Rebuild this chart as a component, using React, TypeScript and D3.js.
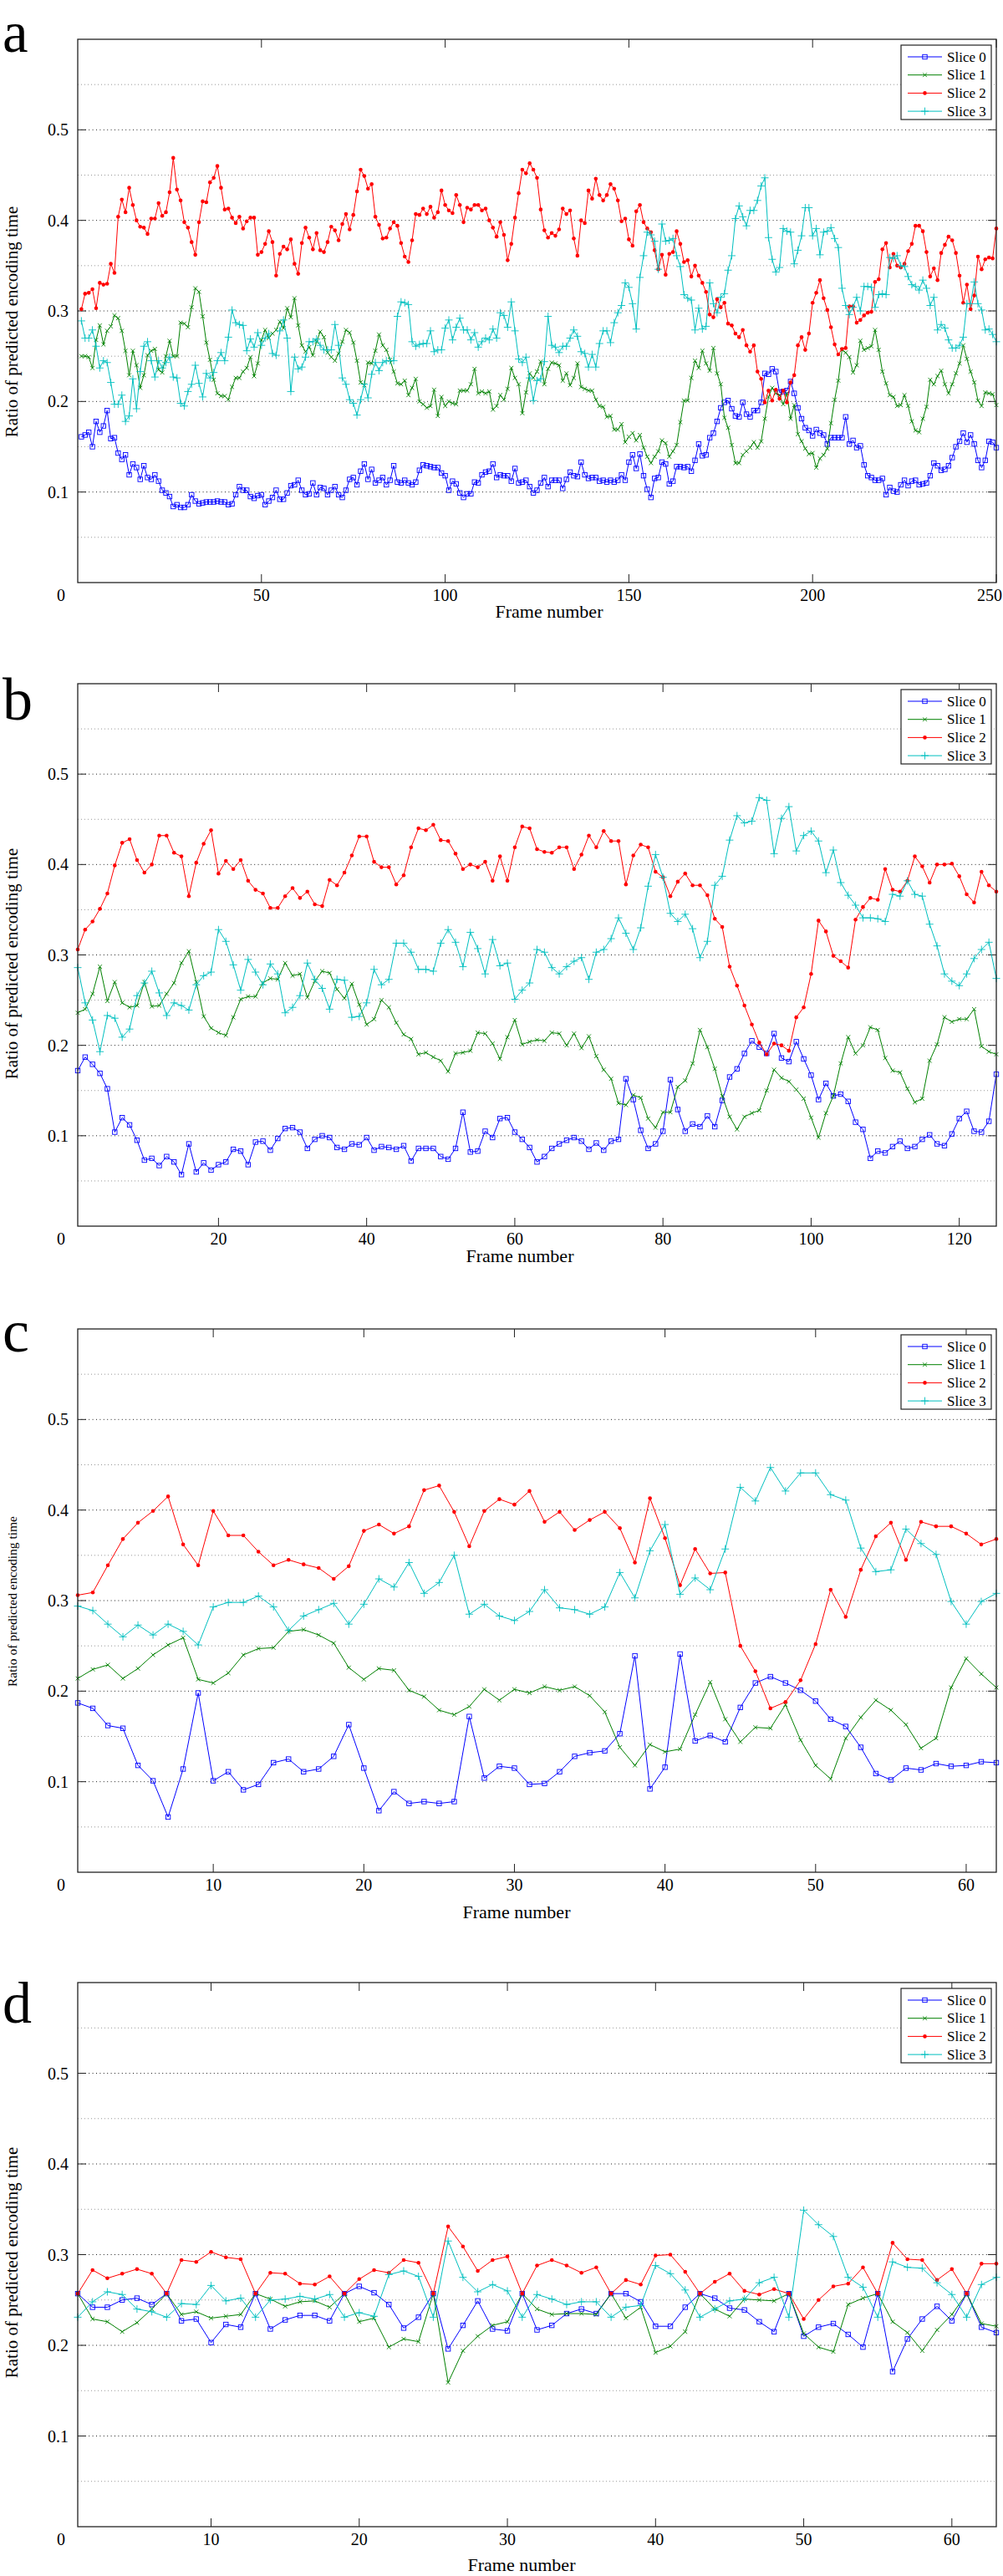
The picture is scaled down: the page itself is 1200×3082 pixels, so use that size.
import React from "react";
import * as d3 from "d3";

// ---------- DATA ----------
const SERIES_NAMES = ["Slice 0", "Slice 1", "Slice 2", "Slice 3"];
const Y_TICKS = [0.1, 0.2, 0.3, 0.4, 0.5];
const Y_MINOR = [0.05, 0.15, 0.25, 0.35, 0.45, 0.55];

const A_TICKS = [50, 100, 150, 200, 250];
const B_TICKS = [20, 40, 60, 80, 100, 120];
const C_TICKS = [10, 20, 30, 40, 50, 60];
const D_TICKS = [10, 20, 30, 40, 50, 60];

// Panel a (frames 1..250)
const A_S0 = [
  0.161, 0.163, 0.166, 0.150, 0.178, 0.166, 0.173, 0.190, 0.159, 0.160,
  0.143, 0.136, 0.141, 0.119, 0.131, 0.127, 0.114, 0.129, 0.116, 0.114,
  0.119, 0.112, 0.102, 0.099, 0.095, 0.084, 0.086, 0.083, 0.083, 0.086,
  0.097, 0.090, 0.087, 0.088, 0.089, 0.089, 0.089, 0.090, 0.089, 0.089,
  0.086, 0.087, 0.097, 0.106, 0.102, 0.102, 0.095, 0.093, 0.096, 0.097,
  0.086, 0.090, 0.094, 0.102, 0.092, 0.092, 0.099, 0.107, 0.108, 0.113,
  0.102, 0.097, 0.098, 0.110, 0.097, 0.105, 0.104, 0.097, 0.102, 0.106,
  0.097, 0.094, 0.102, 0.114, 0.116, 0.108, 0.123, 0.131, 0.114, 0.125,
  0.110, 0.113, 0.116, 0.108, 0.113, 0.129, 0.111, 0.110, 0.113, 0.110,
  0.108, 0.111, 0.124, 0.130, 0.129, 0.128, 0.127, 0.127, 0.121, 0.118,
  0.102, 0.112, 0.109, 0.099, 0.094, 0.098, 0.098, 0.111, 0.110, 0.119,
  0.122, 0.123, 0.131, 0.116, 0.119,
  0.118, 0.118, 0.112, 0.126, 0.110, 0.111, 0.113, 0.106, 0.099, 0.102,
  0.110, 0.116, 0.106, 0.113, 0.113, 0.113, 0.104, 0.114, 0.122, 0.118,
  0.117, 0.133, 0.119, 0.115, 0.116, 0.116, 0.112, 0.113, 0.111, 0.113,
  0.111, 0.113, 0.119, 0.113, 0.133, 0.141, 0.126, 0.142, 0.118, 0.103,
  0.094, 0.115, 0.116, 0.133, 0.131, 0.109, 0.112, 0.128, 0.128, 0.127,
  0.128, 0.123, 0.135, 0.153, 0.140, 0.141, 0.160, 0.165, 0.178, 0.193,
  0.199, 0.201, 0.192, 0.184, 0.183, 0.199, 0.186, 0.183, 0.190, 0.190,
  0.199, 0.231, 0.230, 0.236, 0.233, 0.210, 0.211, 0.212, 0.222, 0.209,
  0.193, 0.181, 0.171, 0.168, 0.162, 0.169, 0.165, 0.163, 0.153, 0.160,
  0.160, 0.160, 0.160, 0.183, 0.153, 0.157, 0.149, 0.151, 0.130, 0.118,
  0.116, 0.113, 0.113, 0.115, 0.097, 0.105, 0.101, 0.100, 0.108, 0.113,
  0.107, 0.112, 0.113, 0.108, 0.109, 0.110, 0.118, 0.132, 0.129, 0.124,
  0.125, 0.129, 0.138, 0.150, 0.156, 0.165, 0.155, 0.163, 0.153, 0.135,
  0.127, 0.135, 0.156, 0.155, 0.149,
];
const A_S1 = [
  0.250, 0.250, 0.249, 0.237, 0.268, 0.284, 0.263, 0.278, 0.283, 0.295,
  0.292, 0.278, 0.256, 0.229, 0.256, 0.240, 0.215, 0.229, 0.251, 0.256,
  0.258, 0.235, 0.232, 0.250, 0.267, 0.250, 0.250, 0.287, 0.286, 0.282,
  0.304, 0.325, 0.321, 0.294, 0.265, 0.246, 0.224, 0.209, 0.206, 0.206,
  0.202, 0.216, 0.226, 0.226, 0.233, 0.237, 0.249, 0.228, 0.242, 0.268,
  0.279, 0.270, 0.275, 0.279, 0.288, 0.281, 0.303, 0.293, 0.314, 0.284,
  0.262, 0.255, 0.260, 0.251, 0.266, 0.277, 0.271, 0.254, 0.249, 0.245,
  0.253, 0.266, 0.279, 0.276, 0.265, 0.245, 0.221, 0.218, 0.243, 0.242,
  0.256, 0.274, 0.262, 0.257, 0.246, 0.233, 0.220, 0.219, 0.223, 0.207,
  0.215, 0.225, 0.200, 0.197, 0.193, 0.195, 0.213, 0.184, 0.205, 0.195,
  0.200, 0.198, 0.197, 0.212, 0.212, 0.212, 0.219, 0.236, 0.209, 0.211,
  0.209, 0.211, 0.191, 0.195, 0.207,
  0.202, 0.214, 0.237, 0.226, 0.219, 0.187, 0.210, 0.231, 0.226, 0.233,
  0.244, 0.219, 0.236, 0.243, 0.242, 0.240, 0.223, 0.231, 0.218, 0.226,
  0.242, 0.216, 0.214, 0.212, 0.212, 0.202, 0.195, 0.194, 0.183, 0.184,
  0.169, 0.169, 0.175, 0.155, 0.161, 0.165, 0.157, 0.163, 0.149, 0.139,
  0.132, 0.139, 0.145, 0.157, 0.154, 0.139, 0.145, 0.152, 0.177, 0.201,
  0.201, 0.226, 0.245, 0.237, 0.256, 0.242, 0.234, 0.259, 0.231, 0.219,
  0.182, 0.171, 0.152, 0.132, 0.132, 0.141, 0.145, 0.149, 0.155, 0.149,
  0.156, 0.181, 0.205, 0.215, 0.209, 0.207, 0.197, 0.209, 0.181, 0.196,
  0.164, 0.156, 0.148, 0.142, 0.143, 0.127, 0.137, 0.141, 0.148, 0.176,
  0.202, 0.223, 0.257, 0.254, 0.249, 0.232, 0.240, 0.267, 0.257, 0.259,
  0.261, 0.279, 0.257, 0.233, 0.220, 0.207, 0.205, 0.195, 0.196, 0.207,
  0.195, 0.178, 0.168, 0.166, 0.181, 0.194, 0.224, 0.219, 0.228, 0.234,
  0.219, 0.209, 0.219, 0.231, 0.242, 0.262, 0.247, 0.233, 0.221, 0.201,
  0.195, 0.210, 0.209, 0.208, 0.196,
];
const A_S2 = [
  0.302, 0.319, 0.320, 0.324, 0.303, 0.331, 0.329, 0.330, 0.352, 0.342,
  0.404, 0.423, 0.409, 0.436, 0.417, 0.400, 0.393, 0.392, 0.385, 0.402,
  0.402, 0.419, 0.405, 0.409, 0.431, 0.469, 0.434, 0.422, 0.398, 0.392,
  0.376, 0.362, 0.398, 0.421, 0.420, 0.442, 0.447, 0.460, 0.436, 0.412,
  0.413, 0.403, 0.397, 0.404, 0.391, 0.399, 0.403, 0.403, 0.362, 0.365,
  0.374, 0.388, 0.376, 0.339, 0.363, 0.371, 0.368, 0.379, 0.352, 0.341,
  0.375, 0.392, 0.381, 0.368, 0.386, 0.367, 0.365, 0.376, 0.393, 0.389,
  0.378, 0.396, 0.407, 0.390, 0.406, 0.432, 0.456, 0.449, 0.435, 0.440,
  0.404, 0.395, 0.380, 0.381, 0.391, 0.398, 0.394, 0.375, 0.360, 0.354,
  0.378, 0.407, 0.406, 0.413, 0.407, 0.415, 0.403, 0.409, 0.433, 0.417,
  0.411, 0.408, 0.428, 0.417, 0.398, 0.414, 0.412, 0.417, 0.417, 0.411,
  0.413, 0.400, 0.392, 0.382, 0.398,
  0.384, 0.356, 0.374, 0.403, 0.430, 0.456, 0.452, 0.463, 0.456, 0.447,
  0.412, 0.389, 0.381, 0.386, 0.383, 0.390, 0.413, 0.407, 0.411, 0.380,
  0.361, 0.400, 0.397, 0.433, 0.424, 0.446, 0.428, 0.422, 0.428, 0.440,
  0.435, 0.422, 0.399, 0.402, 0.379, 0.372, 0.410, 0.417, 0.398, 0.391,
  0.387, 0.367, 0.346, 0.362, 0.340, 0.363, 0.365, 0.388, 0.374, 0.354,
  0.356, 0.338, 0.350, 0.339, 0.331, 0.321, 0.296, 0.293, 0.313, 0.304,
  0.309, 0.286, 0.284, 0.275, 0.271, 0.279, 0.262, 0.255, 0.262, 0.233,
  0.225, 0.199, 0.212, 0.201, 0.213, 0.203, 0.212, 0.199, 0.221, 0.229,
  0.262, 0.271, 0.257, 0.275, 0.309, 0.320, 0.334, 0.314, 0.301, 0.282,
  0.263, 0.252, 0.258, 0.259, 0.305, 0.305, 0.287, 0.290, 0.295, 0.298,
  0.299, 0.332, 0.335, 0.368, 0.375, 0.348, 0.363, 0.350, 0.348, 0.352,
  0.366, 0.374, 0.394, 0.394, 0.388, 0.365, 0.338, 0.347, 0.334, 0.364,
  0.373, 0.382, 0.378, 0.364, 0.339, 0.309, 0.329, 0.302, 0.317, 0.360,
  0.346, 0.357, 0.359, 0.358, 0.391,
];
const A_S3 = [
  0.289, 0.270, 0.270, 0.279, 0.261, 0.237, 0.245, 0.243, 0.221, 0.197,
  0.197, 0.207, 0.178, 0.184, 0.225, 0.192, 0.233, 0.261, 0.266, 0.245,
  0.227, 0.245, 0.237, 0.243, 0.249, 0.227, 0.226, 0.198, 0.195, 0.211,
  0.219, 0.240, 0.220, 0.205, 0.231, 0.226, 0.232, 0.245, 0.254, 0.245,
  0.271, 0.301, 0.287, 0.285, 0.284, 0.256, 0.269, 0.260, 0.276, 0.262,
  0.270, 0.275, 0.253, 0.251, 0.278, 0.290, 0.270, 0.211, 0.249, 0.236,
  0.238, 0.249, 0.266, 0.266, 0.269, 0.262, 0.257, 0.257, 0.257, 0.285,
  0.262, 0.226, 0.219, 0.202, 0.198, 0.185, 0.202, 0.219, 0.204, 0.230,
  0.243, 0.234, 0.243, 0.245, 0.245, 0.245, 0.294, 0.310, 0.309, 0.307,
  0.266, 0.261, 0.263, 0.264, 0.264, 0.278, 0.255, 0.257, 0.257, 0.281,
  0.290, 0.268, 0.282, 0.292, 0.279, 0.279, 0.268, 0.276, 0.260, 0.266,
  0.270, 0.268, 0.280, 0.270, 0.298,
  0.295, 0.282, 0.310, 0.278, 0.247, 0.243, 0.249, 0.226, 0.201, 0.223,
  0.225, 0.244, 0.294, 0.262, 0.260, 0.254, 0.261, 0.261, 0.270, 0.279,
  0.272, 0.255, 0.253, 0.238, 0.252, 0.238, 0.264, 0.278, 0.278, 0.265,
  0.287, 0.298, 0.306, 0.331, 0.326, 0.308, 0.280, 0.337, 0.361, 0.387,
  0.384, 0.377, 0.346, 0.396, 0.377, 0.378, 0.380, 0.361, 0.349, 0.318,
  0.314, 0.312, 0.279, 0.303, 0.280, 0.283, 0.331, 0.308, 0.298, 0.315,
  0.319, 0.345, 0.361, 0.402, 0.416, 0.404, 0.394, 0.411, 0.411, 0.422,
  0.438, 0.447, 0.381, 0.357, 0.343, 0.348, 0.391, 0.388, 0.387, 0.352,
  0.367, 0.383, 0.414, 0.414, 0.383, 0.391, 0.362, 0.387, 0.388, 0.392,
  0.380, 0.370, 0.325, 0.306, 0.296, 0.304, 0.315, 0.300, 0.327, 0.327,
  0.326, 0.304, 0.318, 0.319, 0.318, 0.359, 0.358, 0.361, 0.350, 0.349,
  0.338, 0.329, 0.327, 0.323, 0.334, 0.325, 0.306, 0.315, 0.279, 0.285,
  0.281, 0.268, 0.259, 0.259, 0.262, 0.271, 0.308, 0.308, 0.332, 0.308,
  0.301, 0.279, 0.280, 0.274, 0.266,
];

// Panel b (frames 1..125)
const B_S0 = [
  0.172, 0.187, 0.179, 0.169, 0.152, 0.104, 0.120, 0.112, 0.095, 0.073,
  0.075, 0.067, 0.077, 0.071, 0.057, 0.091, 0.060, 0.070, 0.062, 0.068,
  0.071, 0.085, 0.083, 0.068, 0.093, 0.094, 0.084, 0.097, 0.108, 0.109,
  0.104, 0.086, 0.096, 0.100, 0.098, 0.087, 0.085, 0.091, 0.090, 0.098,
  0.084, 0.088, 0.087, 0.085, 0.089, 0.072, 0.086, 0.086, 0.086, 0.077,
  0.074, 0.086, 0.126, 0.082, 0.083, 0.105, 0.098, 0.119, 0.120, 0.104,
  0.096, 0.087, 0.071, 0.077, 0.086, 0.091, 0.095, 0.098, 0.094, 0.085,
  0.092, 0.084, 0.094, 0.096, 0.163, 0.140, 0.106, 0.086, 0.091, 0.105,
  0.162, 0.129, 0.105, 0.113, 0.110, 0.122, 0.110, 0.139, 0.165, 0.174,
  0.191, 0.205, 0.198, 0.191, 0.213, 0.186, 0.182, 0.204, 0.185, 0.167,
  0.140, 0.158, 0.144, 0.146, 0.138, 0.115, 0.107, 0.075, 0.083, 0.081,
  0.088, 0.094, 0.086, 0.088, 0.096, 0.101, 0.091, 0.089, 0.102, 0.119,
  0.127, 0.105, 0.104, 0.116, 0.168,
];
const B_S1 = [
  0.236, 0.240, 0.257, 0.287, 0.249, 0.270, 0.247, 0.242, 0.244, 0.270,
  0.243, 0.244, 0.257, 0.269, 0.291, 0.304, 0.270, 0.232, 0.219, 0.214,
  0.211, 0.231, 0.251, 0.254, 0.254, 0.269, 0.274, 0.273, 0.291, 0.277,
  0.279, 0.253, 0.271, 0.282, 0.280, 0.262, 0.252, 0.268, 0.245, 0.223,
  0.229, 0.250, 0.242, 0.225, 0.212, 0.207, 0.190, 0.192, 0.187, 0.183,
  0.171, 0.191, 0.192, 0.194, 0.214, 0.213, 0.202, 0.185, 0.209, 0.228,
  0.201, 0.204, 0.206, 0.205, 0.214, 0.213, 0.200, 0.213, 0.197, 0.210,
  0.188, 0.173, 0.163, 0.136, 0.134, 0.145, 0.142, 0.119, 0.109, 0.126,
  0.126, 0.154, 0.161, 0.180, 0.217, 0.198, 0.174, 0.144, 0.121, 0.107,
  0.121, 0.125, 0.128, 0.150, 0.173, 0.164, 0.160, 0.151, 0.141, 0.120,
  0.098, 0.125, 0.144, 0.180, 0.209, 0.191, 0.200, 0.220, 0.217, 0.186,
  0.172, 0.170, 0.152, 0.137, 0.141, 0.183, 0.201, 0.231, 0.226, 0.229,
  0.229, 0.240, 0.199, 0.193, 0.190,
];
const B_S2 = [
  0.306, 0.328, 0.337, 0.351, 0.368, 0.399, 0.424, 0.428, 0.405, 0.391,
  0.400, 0.432, 0.432, 0.413, 0.409, 0.365, 0.402, 0.423, 0.438, 0.390,
  0.404, 0.395, 0.405, 0.382, 0.372, 0.368, 0.352, 0.352, 0.365, 0.374,
  0.363, 0.370, 0.356, 0.354, 0.383, 0.377, 0.391, 0.410, 0.431, 0.431,
  0.403, 0.397, 0.397, 0.378, 0.388, 0.419, 0.440, 0.438, 0.444, 0.427,
  0.426, 0.412, 0.395, 0.400, 0.397, 0.403, 0.382, 0.409, 0.382, 0.419,
  0.442, 0.440, 0.417, 0.414, 0.413, 0.419, 0.419, 0.395, 0.411, 0.432,
  0.419, 0.437, 0.426, 0.426, 0.378, 0.410, 0.422, 0.419, 0.392, 0.386,
  0.365, 0.381, 0.390, 0.377, 0.377, 0.366, 0.340, 0.331, 0.287, 0.266,
  0.244, 0.223, 0.203, 0.190, 0.202, 0.200, 0.194, 0.231, 0.242, 0.279,
  0.338, 0.326, 0.299, 0.293, 0.286, 0.339, 0.353, 0.363, 0.361, 0.395,
  0.372, 0.370, 0.382, 0.409, 0.398, 0.380, 0.400, 0.400, 0.401, 0.387,
  0.367, 0.358, 0.392, 0.377, 0.370,
];
const B_S3 = [
  0.286, 0.247, 0.228, 0.193, 0.233, 0.230, 0.209, 0.218, 0.255, 0.269,
  0.282, 0.258, 0.233, 0.247, 0.244, 0.239, 0.267, 0.277, 0.281, 0.328,
  0.315, 0.289, 0.261, 0.295, 0.281, 0.267, 0.290, 0.279, 0.236, 0.242,
  0.255, 0.291, 0.273, 0.263, 0.240, 0.273, 0.272, 0.231, 0.232, 0.247,
  0.284, 0.267, 0.273, 0.313, 0.313, 0.303, 0.284, 0.284, 0.282, 0.313,
  0.328, 0.314, 0.287, 0.325, 0.307, 0.279, 0.317, 0.288, 0.291, 0.251,
  0.261, 0.269, 0.306, 0.303, 0.286, 0.279, 0.287, 0.293, 0.297, 0.273,
  0.303, 0.306, 0.318, 0.341, 0.324, 0.306, 0.330, 0.376, 0.411, 0.386,
  0.346, 0.337, 0.345, 0.329, 0.297, 0.315, 0.377, 0.387, 0.427, 0.454,
  0.446, 0.448, 0.474, 0.471, 0.412, 0.451, 0.464, 0.415, 0.432, 0.437,
  0.426, 0.391, 0.416, 0.380, 0.366, 0.355, 0.341, 0.341, 0.340, 0.337,
  0.367, 0.365, 0.382, 0.367, 0.365, 0.334, 0.310, 0.279, 0.271, 0.266,
  0.279, 0.296, 0.306, 0.314, 0.274,
];

// Panel c (frames 1..62)
const C_S0 = [
  0.187, 0.181, 0.162, 0.159, 0.118, 0.101, 0.061, 0.114, 0.198, 0.101,
  0.111, 0.091, 0.097, 0.121, 0.125, 0.111, 0.114, 0.128, 0.163, 0.115,
  0.068, 0.089, 0.076, 0.078, 0.076, 0.078, 0.172, 0.104, 0.117, 0.115,
  0.097, 0.098, 0.111, 0.128, 0.132, 0.134, 0.153, 0.239, 0.092, 0.116,
  0.241, 0.145, 0.151, 0.144, 0.182, 0.209, 0.216, 0.209, 0.201, 0.189,
  0.169, 0.161, 0.138, 0.109, 0.102, 0.115, 0.113, 0.120, 0.117, 0.118,
  0.122, 0.121,
];
const C_S1 = [
  0.214, 0.224, 0.229, 0.214, 0.225, 0.240, 0.251, 0.259, 0.213, 0.209,
  0.220, 0.240, 0.247, 0.248, 0.266, 0.268, 0.262, 0.253, 0.226, 0.213,
  0.225, 0.223, 0.201, 0.194, 0.179, 0.174, 0.183, 0.202, 0.190, 0.202,
  0.198, 0.205, 0.201, 0.205, 0.195, 0.177, 0.138, 0.118, 0.141, 0.133,
  0.136, 0.174, 0.210, 0.169, 0.144, 0.160, 0.159, 0.185, 0.146, 0.118,
  0.103, 0.148, 0.171, 0.190, 0.179, 0.163, 0.137, 0.148, 0.204, 0.236,
  0.219, 0.204,
];
const C_S2 = [
  0.306, 0.309, 0.339, 0.368, 0.386, 0.399, 0.415, 0.362, 0.339, 0.399,
  0.372, 0.372, 0.354, 0.339, 0.345, 0.340, 0.336, 0.324, 0.338, 0.377,
  0.384, 0.374, 0.382, 0.422, 0.427, 0.398, 0.360, 0.399, 0.412, 0.406,
  0.421, 0.387, 0.398, 0.378, 0.389, 0.398, 0.380, 0.342, 0.413, 0.369,
  0.317, 0.357, 0.330, 0.331, 0.250, 0.222, 0.181, 0.188, 0.212, 0.252,
  0.312, 0.282, 0.334, 0.371, 0.386, 0.345, 0.387, 0.382, 0.382, 0.374,
  0.362, 0.368,
];
const C_S3 = [
  0.294, 0.289, 0.274, 0.260, 0.273, 0.262, 0.274, 0.266, 0.251, 0.293,
  0.298, 0.298, 0.305, 0.293, 0.267, 0.283, 0.290, 0.297, 0.274, 0.296,
  0.324, 0.315, 0.342, 0.308, 0.320, 0.350, 0.285, 0.296, 0.283, 0.278,
  0.288, 0.312, 0.292, 0.290, 0.285, 0.293, 0.331, 0.303, 0.355, 0.384,
  0.307, 0.325, 0.312, 0.357, 0.425, 0.410, 0.447, 0.421, 0.441, 0.441,
  0.417, 0.411, 0.358, 0.332, 0.334, 0.379, 0.363, 0.351, 0.299, 0.274,
  0.299, 0.308,
];

// Panel d (frames 1..63)
const D_S0 = [
  0.257, 0.242, 0.242, 0.250, 0.252, 0.245, 0.257, 0.227, 0.229, 0.203,
  0.223, 0.220, 0.257, 0.218, 0.228, 0.233, 0.233, 0.227, 0.257, 0.265,
  0.258, 0.245, 0.219, 0.231, 0.257, 0.196, 0.222, 0.249, 0.218, 0.216,
  0.257, 0.217, 0.222, 0.235, 0.240, 0.235, 0.257, 0.257, 0.248, 0.221,
  0.221, 0.242, 0.257, 0.252, 0.241, 0.239, 0.226, 0.215, 0.257, 0.210,
  0.220, 0.224, 0.212, 0.198, 0.257, 0.171, 0.207, 0.229, 0.243, 0.227,
  0.257, 0.220, 0.214,
];
const D_S1 = [
  0.257, 0.229, 0.226, 0.215, 0.225, 0.240, 0.257, 0.234, 0.237, 0.230,
  0.232, 0.234, 0.257, 0.251, 0.243, 0.248, 0.249, 0.242, 0.257, 0.226,
  0.230, 0.198, 0.207, 0.204, 0.257, 0.159, 0.194, 0.210, 0.222, 0.226,
  0.257, 0.240, 0.234, 0.235, 0.235, 0.234, 0.257, 0.230, 0.242, 0.192,
  0.199, 0.215, 0.257, 0.240, 0.232, 0.251, 0.250, 0.249, 0.257, 0.213,
  0.198, 0.193, 0.245, 0.252, 0.257, 0.226, 0.214, 0.194, 0.217, 0.234,
  0.257, 0.224, 0.221,
];
const D_S2 = [
  0.257, 0.283, 0.274, 0.279, 0.284, 0.279, 0.257, 0.294, 0.292, 0.303,
  0.297, 0.295, 0.257, 0.280, 0.279, 0.268, 0.267, 0.276, 0.257, 0.273,
  0.283, 0.280, 0.294, 0.291, 0.257, 0.331, 0.309, 0.282, 0.294, 0.298,
  0.257, 0.288, 0.294, 0.288, 0.280, 0.286, 0.257, 0.272, 0.267, 0.299,
  0.300, 0.281, 0.257, 0.270, 0.279, 0.260, 0.256, 0.262, 0.257, 0.229,
  0.250, 0.265, 0.268, 0.286, 0.257, 0.313, 0.295, 0.294, 0.272, 0.284,
  0.257, 0.290, 0.290,
];
const D_S3 = [
  0.231, 0.248, 0.259, 0.256, 0.240, 0.237, 0.231, 0.246, 0.245, 0.266,
  0.249, 0.252, 0.231, 0.250, 0.251, 0.254, 0.251, 0.256, 0.231, 0.236,
  0.232, 0.278, 0.282, 0.276, 0.231, 0.315, 0.275, 0.259, 0.267, 0.260,
  0.231, 0.256, 0.251, 0.245, 0.248, 0.248, 0.231, 0.242, 0.244, 0.288,
  0.279, 0.261, 0.231, 0.240, 0.249, 0.251, 0.269, 0.275, 0.231, 0.349,
  0.333, 0.320, 0.275, 0.264, 0.231, 0.292, 0.286, 0.285, 0.269, 0.256,
  0.231, 0.267, 0.275,
];

// ---------- STYLE / LAYOUT ----------
const COLORS = ["#0000ff", "#008000", "#ff0000", "#00bfbf"];
const FONT = "'Liberation Serif', 'Times New Roman', Times, serif";
const LEFT = 93;
const RIGHT = 1192;

const PANELS = [
  { letter: "a", top: 47, bottom: 697, xDomain: [0, 250], ticks: A_TICKS, series: [A_S0, A_S1, A_S2, A_S3], letterY: 62, letterSize: 69, xLabel: [657, 731], yLabelSize: 21, yLabelY: 385 },
  { letter: "b", top: 818, bottom: 1467, xDomain: [1, 125], ticks: B_TICKS, series: [B_S0, B_S1, B_S2, B_S3], letterY: 861, letterSize: 72, xLabel: [622, 1502], yLabelSize: 21, yLabelY: 1153 },
  { letter: "c", top: 1590, bottom: 2240, xDomain: [1, 62], ticks: C_TICKS, series: [C_S0, C_S1, C_S2, C_S3], letterY: 1617, letterSize: 72, xLabel: [618, 2287], yLabelSize: 15.5, yLabelY: 1916 },
  { letter: "d", top: 2372, bottom: 3023, xDomain: [1, 63], ticks: D_TICKS, series: [D_S0, D_S1, D_S2, D_S3], letterY: 2420, letterSize: 70, xLabel: [624, 3068], yLabelSize: 21, yLabelY: 2707 },
];

function Marker({ kind, x, y, color }: { kind: number; x: number; y: number; color: string }) {
  if (kind === 0) {
    return <rect x={x - 2.7} y={y - 2.7} width={5.4} height={5.4} fill="none" stroke={color} strokeWidth={0.9} />;
  }
  if (kind === 1) {
    const s = 2.4;
    return <path d={`M${x - s},${y - s}L${x + s},${y + s}M${x - s},${y + s}L${x + s},${y - s}`} stroke={color} strokeWidth={0.9} fill="none" />;
  }
  if (kind === 2) {
    return <circle cx={x} cy={y} r={2.3} fill={color} />;
  }
  const s = 4.5;
  return <path d={`M${x - s},${y}L${x + s},${y}M${x},${y - s}L${x},${y + s}`} stroke={color} strokeWidth={0.9} fill="none" />;
}

function Panel({ p }: { p: any }) {
  const x = d3.scaleLinear().domain(p.xDomain).range([LEFT, RIGHT]);
  const y = d3.scaleLinear().domain([0, 0.6]).range([p.bottom, p.top]);
  const line = d3
    .line<number>()
    .x((_, i) => x(i + 1))
    .y((d) => y(d));
  const tickLen = 10;
  const legTop = p.top + 7;
  return (
    <g>
      <text x={3} y={p.letterY} fontFamily={FONT} fontSize={p.letterSize} fill="#000">{p.letter}</text>
      {/* minor grid */}
      {Y_MINOR.map((v) => (
        <line key={"mi" + v} x1={LEFT} x2={RIGHT} y1={y(v)} y2={y(v)} stroke="#8a8a8a" strokeWidth={0.9} strokeDasharray="1,3" />
      ))}
      {/* major grid */}
      {Y_TICKS.map((v) => (
        <line key={"ma" + v} x1={LEFT} x2={RIGHT} y1={y(v)} y2={y(v)} stroke="#222" strokeWidth={1} strokeDasharray="1,3.4" />
      ))}
      {/* y ticks */}
      {Y_TICKS.map((v) => (
        <g key={"yt" + v}>
          <line x1={LEFT} x2={LEFT + tickLen} y1={y(v)} y2={y(v)} stroke="#222" strokeWidth={1} />
          <line x1={RIGHT - tickLen} x2={RIGHT} y1={y(v)} y2={y(v)} stroke="#222" strokeWidth={1} />
          <text x={82} y={y(v)} textAnchor="end" dominantBaseline="central" fontFamily={FONT} fontSize={20} fill="#000">
            {d3.format(".1f")(v)}
          </text>
        </g>
      ))}
      {/* x ticks */}
      {p.ticks.map((t: number) => {
        const tx = x(t);
        const nearEdge = tx + 16 > 1199;
        return (
          <g key={"xt" + t}>
            <line x1={tx} x2={tx} y1={p.bottom} y2={p.bottom - tickLen} stroke="#222" strokeWidth={1} />
            <line x1={tx} x2={tx} y1={p.top} y2={p.top + tickLen} stroke="#222" strokeWidth={1} />
            <text
              x={nearEdge ? 1199 : tx}
              y={p.bottom + 15}
              textAnchor={nearEdge ? "end" : "middle"}
              dominantBaseline="central"
              fontFamily={FONT}
              fontSize={20}
              fill="#000"
            >
              {t}
            </text>
          </g>
        );
      })}
      <text x={73} y={p.bottom + 15} textAnchor="middle" dominantBaseline="central" fontFamily={FONT} fontSize={20} fill="#000">0</text>
      {/* series */}
      {p.series.map((s: number[], si: number) => (
        <g key={"s" + si}>
          <path d={line(s) || ""} fill="none" stroke={COLORS[si]} strokeWidth={1} strokeLinejoin="round" />
          {s.map((v, i) => (
            <Marker key={i} kind={si} x={x(i + 1)} y={y(v)} color={COLORS[si]} />
          ))}
        </g>
      ))}
      {/* frame */}
      <rect x={LEFT} y={p.top} width={RIGHT - LEFT} height={p.bottom - p.top} fill="none" stroke="#222" strokeWidth={1.3} />
      {/* legend */}
      <rect x={1078} y={legTop} width={108} height={89} fill="#fff" stroke="#222" strokeWidth={1.2} />
      {SERIES_NAMES.map((name, i) => {
        const ly = legTop + 14 + i * 21.7;
        return (
          <g key={name}>
            <line x1={1086} x2={1127} y1={ly} y2={ly} stroke={COLORS[i]} strokeWidth={1} />
            <Marker kind={i} x={1106.5} y={ly} color={COLORS[i]} />
            <text x={1133} y={ly} dominantBaseline="central" fontFamily={FONT} fontSize={17} fill="#000">{name}</text>
          </g>
        );
      })}
      {/* axis labels */}
      <text x={p.xLabel[0]} y={p.xLabel[1]} textAnchor="middle" dominantBaseline="central" fontFamily={FONT} fontSize={22} fill="#000">
        Frame number
      </text>
      <text
        transform={`translate(14,${p.yLabelY}) rotate(-90)`}
        textAnchor="middle"
        dominantBaseline="central"
        fontFamily={FONT}
        fontSize={p.yLabelSize}
        fill="#000"
      >
        Ratio of predicted encoding time
      </text>
    </g>
  );
}

export default function App() {
  return (
    <svg width={1200} height={3082} style={{ position: "absolute", left: 0, top: 0, background: "#fff" }}>
      <rect x={0} y={0} width={1200} height={3082} fill="#fff" />
      {PANELS.map((p) => (
        <Panel key={p.letter} p={p} />
      ))}
    </svg>
  );
}
